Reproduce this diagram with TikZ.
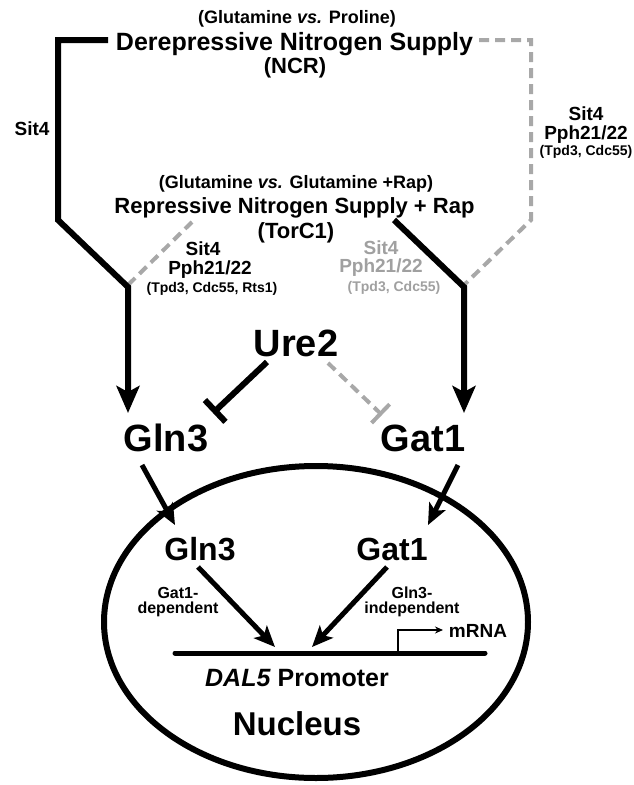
\documentclass[tikz,border=0pt]{standalone}
\usepackage{fontspec}
\setmainfont{Liberation Sans}
\usetikzlibrary{arrows.meta}
\definecolor{dgray}{HTML}{A8A8A8}
\definecolor{tgray}{HTML}{A0A0A0}
\begin{document}
\begin{tikzpicture}[x=1pt,y=-1pt,
  t/.style={inner sep=0pt, anchor=base, font=\bfseries\fontsize{#1}{#1}\selectfont},
  blk/.style={line width=6pt, black},
  gry/.style={line width=4pt, dgray, dash pattern=on 10pt off 6pt},
  bigarr/.style={-{Stealth[length=27pt,width=23pt,inset=6pt]}},
  midarr/.style={line width=5pt, -{Stealth[length=21pt,width=18pt,inset=5pt]}},
  blkbar/.style={-{Bar[width=30pt]}},
]
\useasboundingbox (0,0) rectangle (634,785);
% ---------- texts ----------
\node[t=18] (glp) at (297,23.5) {(Glutamine \textit{vs.} Proline)};
\node[t=25] (der) at (294.5,50) {Derepressive Nitrogen Supply};
\node[t=22] (ncr) at (295,73) {(NCR)};
\node[t=18] (glr) at (296,188.5) {(Glutamine \textit{vs.} Glutamine +Rap)};
\node[t=22] (rep) at (294.5,213) {Repressive Nitrogen Supply + Rap};
\node[t=22] (tor) at (296,238) {(TorC1)};
\node[t=19] (sitL) at (32,135) {Sit4};
\node[t=19] (sitA) at (203,255) {Sit4};
\node[t=19] (pphA) at (210,274) {Pph21/22};
\node[t=14] (tpdA) at (212,292) {(Tpd3, Cdc55, Rts1)};
\node[t=19,text=tgray] (sitB) at (381,254) {Sit4};
\node[t=19,text=tgray] (pphB) at (381,272) {Pph21/22};
\node[t=14,text=tgray] (tpdB) at (394,291) {(Tpd3, Cdc55)};
\node[t=19] (sitR) at (586,120) {Sit4};
\node[t=19] (pphR) at (586,139) {Pph21/22};
\node[t=14] (tpdR) at (586,155) {(Tpd3, Cdc55)};
\node[t=38] (ure) at (296,356) {Ure2};
\node[t=38] (gln) at (166,451) {Gln3};
\node[t=38] (gat) at (423,451) {Gat1};
\node[t=32] (glnN) at (200,560) {Gln3};
\node[t=32] (gatN) at (392,560) {Gat1};
\node[t=16] (gd1) at (178,598) {Gat1-};
\node[t=16] (gd2) at (178,613) {dependent};
\node[t=16] (gi1) at (412,598) {Gln3-};
\node[t=16] (gi2) at (412,613) {independent};
\node[t=19] (mrna) at (478,637) {mRNA};
\node[t=25] (dal) at (297,686) {\textit{DAL5} Promoter};
\node[t=33] (nuc) at (297,735) {Nucleus};
% ---------- coordinates ----------
\coordinate (a0) at (108,40);
\coordinate (a1) at (58,40);
\coordinate (a2) at (58,220);
\coordinate (a3) at (128,287);
\coordinate (a4) at (128,413);
\coordinate (b0) at (394,220);
\coordinate (b1) at (464,287);
\coordinate (b2) at (464,413);
\coordinate (c0) at (479,40);
\coordinate (c1) at (531,40);
\coordinate (c2) at (531,220);
\coordinate (c3) at (464,285);
\coordinate (d0) at (128,285);
\coordinate (d1) at (192,222);
\coordinate (u0) at (267,362);
\coordinate (u1) at (213,413);
\coordinate (v0) at (328,363);
\coordinate (v1) at (382,415);
\coordinate (p0) at (175,653);
\coordinate (p1) at (485,653);
\coordinate (m0) at (398,653);
\coordinate (m1) at (398,630);
\coordinate (m2) at (443,630);
% ---------- lines ----------
\draw[gry] (d0) -- (d1);
\draw[gry] (c0) -- (c1) -- (c2) -- (c3);
\draw[blk,bigarr] (a0) -- (a1) -- (a2) -- (a3) -- (a4);
\draw[blk,bigarr] (b0) -- (b1) -- (b2);
\draw[blk,blkbar] (u0) -- (u1);
\draw[gry,-{Bar[width=26pt]}] (v0) -- (v1);
% nucleus
\draw[line width=6pt] (316,622) ellipse[x radius=212, y radius=156];
\draw[midarr] (142,465) -- (175,525);
\draw[midarr] (458,465) -- (428,525);
\draw[midarr] (198,567) -- (275,647);
\draw[midarr] (387,567) -- (312,647);
\draw[line width=5pt, line cap=round] (p0) -- (p1);
\draw[line width=2pt, -{Stealth[length=8pt,width=7pt]}] (m0) -- (m1) -- (m2);
\end{tikzpicture}
\end{document}
